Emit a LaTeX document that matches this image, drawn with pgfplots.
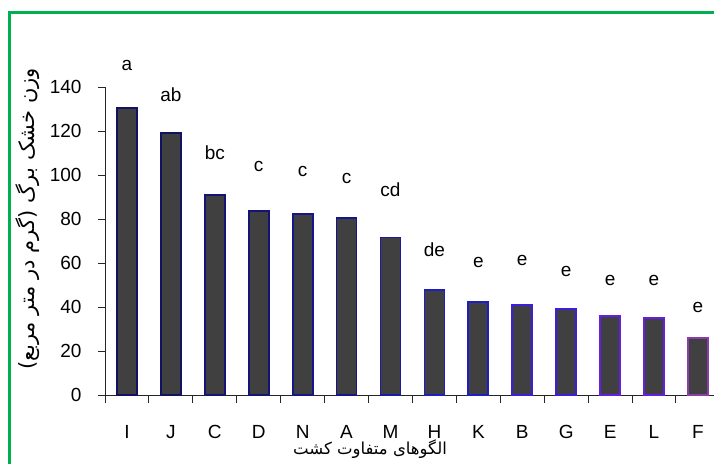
\documentclass[border=0pt]{standalone}
\usepackage{fontspec}
\setmainfont{Liberation Sans}
\newfontfamily\farsi[Script=Arabic]{DejaVu Sans}
\usepackage{pgfplots}
\pgfplotsset{compat=1.18}
\TeXXeTstate=1
\definecolor{framegreen}{RGB}{0,176,80}
\definecolor{barfill}{RGB}{64,64,64}
\definecolor{o1}{RGB}{18,18,100}
\definecolor{o2}{RGB}{20,20,120}
\definecolor{o3}{RGB}{22,22,140}
\definecolor{o4}{RGB}{26,26,170}
\definecolor{o5}{RGB}{30,30,200}
\definecolor{o6}{RGB}{60,30,220}
\definecolor{o7}{RGB}{100,30,230}
\definecolor{o8}{RGB}{140,60,170}
\begin{document}
\begin{tikzpicture}[x=1pt,y=1pt]
\useasboundingbox (0,0) rectangle (714,463);
\clip (0,0) rectangle (714,463);
\fill[white] (0,0) rectangle (714,463);
\draw[framegreen, line width=2.7pt] (9.7,-30) -- (9.7,450.8) -- (760,450.8);
\begin{axis}[
  at={(105pt,68pt)}, anchor=south west,
  scale only axis, width=614.9pt, height=307.7pt,
  xmin=-0.5, xmax=13.5, ymin=0, ymax=140,
  clip=false,
  axis x line*=bottom, axis y line*=left,
  axis line style={draw=black!85, line width=1pt},
  ytick={0,20,...,140},
  xtick={0,...,13},
  xticklabels={I,J,C,D,N,A,M,H,K,B,G,E,L,F},
  minor xtick={-0.5,0.5,...,13.5},
  tick align=outside,
  major tick length=7pt, minor tick length=8pt,
  tick style={draw=black!85, line width=1pt},
  major x tick style={draw=none},
  /pgf/number format/assume math mode=true,
  ticklabel style={font=\fontsize{19}{22}\selectfont},
  xticklabel style={yshift=-20pt},
  yticklabel style={xshift=-13pt},
  every axis plot/.append style={ybar, bar width=20pt, bar shift=0pt, line width=1.8pt, fill=barfill},
]
\addplot[draw=o1] coordinates {(0,130.6)};
\addplot[draw=o1] coordinates {(1,119.1)};
\addplot[draw=o2] coordinates {(2,91.0)};
\addplot[draw=o2] coordinates {(3,83.7)};
\addplot[draw=o3] coordinates {(4,82.3)};
\addplot[draw=o3] coordinates {(5,80.4)};
\addplot[draw=o4] coordinates {(6,71.7)};
\addplot[draw=o5] coordinates {(7,47.8)};
\addplot[draw=o5] coordinates {(8,42.2)};
\addplot[draw=o6] coordinates {(9,40.9)};
\addplot[draw=o6] coordinates {(10,39.1)};
\addplot[draw=o7] coordinates {(11,36.1)};
\addplot[draw=o7] coordinates {(12,35.0)};
\addplot[draw=o8] coordinates {(13,25.9)};
\addplot[draw=none, fill=none, mark=none, nodes near coords, point meta=explicit symbolic,
  nodes near coords style={anchor=center, font=\fontsize{19}{22}\selectfont}]
table[meta=lab] {
x y lab
0 150.1 a
1 136.5 ab
2 110.2 bc
3 103.9 c
4 101.6 c
5 98.6 c
6 93.6 cd
7 66.0 de
8 60.2 e
9 61.1 e
10 56.1 e
11 52.3 e
12 52.0 e
13 39.7 e
};
\end{axis}
\node[rotate=90, font=\farsi\fontsize{21}{25}\selectfont] at (28,244) {\beginR وزن خشک برگ (گرم در متر مربع)\endR};
\node[font=\farsi\fontsize{16.5}{20}\selectfont] at (370,14) {\beginR الگوهای متفاوت کشت\endR};
\end{tikzpicture}
\end{document}
